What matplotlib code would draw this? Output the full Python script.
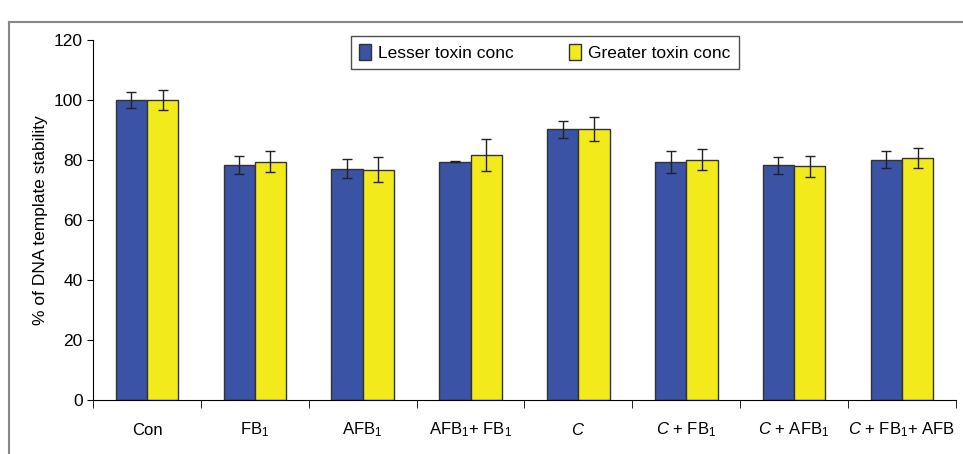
import matplotlib.pyplot as plt
import numpy as np
from matplotlib.lines import Line2D

plt.rcParams['font.family'] = ['Liberation Sans Narrow', 'Liberation Sans', 'DejaVu Sans']
plt.rcParams['mathtext.fontset'] = 'custom'
plt.rcParams['mathtext.rm'] = 'Liberation Sans'
plt.rcParams['mathtext.it'] = 'Liberation Sans:italic'

categories = ['Con', 'FB$_1$', 'AFB$_1$', 'AFB$_1$+ FB$_1$', '$\\it{C}$',
              '$\\it{C}$ + FB$_1$', '$\\it{C}$ + AFB$_1$', '$\\it{C}$ + FB$_1$+ AFB']
lesser = [100.0, 78.2, 77.1, 79.4, 90.2, 79.3, 78.2, 80.1]
lesser_err = [2.7, 3.0, 3.2, 0.2, 2.9, 3.6, 2.8, 2.8]
greater = [100.0, 79.4, 76.8, 81.7, 90.2, 80.1, 77.9, 80.6]
greater_err = [3.3, 3.5, 4.1, 5.2, 4.0, 3.5, 3.4, 3.4]

fig = plt.figure(figsize=(9.63, 4.54), dpi=100)
ax = fig.add_axes([0.0966, 0.1189, 0.896, 0.793])

x = np.arange(len(categories))
w = 0.29
ekw = dict(ecolor='#222222', elinewidth=1, capsize=3.5, capthick=1)
ax.bar(x - w / 2, lesser, w, yerr=lesser_err, color='#3a53a4', edgecolor='#333333',
       linewidth=1, error_kw=ekw, label='Lesser toxin conc')
ax.bar(x + w / 2, greater, w, yerr=greater_err, color='#f2ea1a', edgecolor='#333333',
       linewidth=1, error_kw=ekw, label='Greater toxin conc')

ax.set_xlim(-0.5, 7.5)
ax.set_ylim(0, 120)
ax.set_yticks(range(0, 121, 20))
ax.tick_params(axis='y', labelsize=12.5, length=4, direction='out')
ax.set_xticks(x)
ax.set_xticklabels(categories, fontsize=12)
for lab in ax.get_xticklabels():
    lab.set_verticalalignment('baseline')
ax.tick_params(axis='x', which='major', length=0, pad=25)
ax.set_xticks(np.arange(-0.5, 7.6, 1), minor=True)
ax.tick_params(axis='x', which='minor', length=6, direction='out')
ax.spines['top'].set_visible(False)
ax.spines['right'].set_visible(False)
ax.set_ylabel('% of DNA template stability', fontsize=12.5, family=['Liberation Sans', 'DejaVu Sans'])

leg = ax.legend(loc='upper left', bbox_to_anchor=(0.299, 1.01), ncol=2, fontsize=12.5,
                frameon=True, fancybox=False, edgecolor='#222222', handlelength=0.7,
                handleheight=1.0, columnspacing=3.2, handletextpad=0.4, borderpad=0.45,
                borderaxespad=0)
leg.get_frame().set_linewidth(1.0)

# grey outer frame
fig.add_artist(Line2D([0.0093, 1.0], [0.952, 0.952], color='#888888', lw=1.5))
fig.add_artist(Line2D([0.0093, 0.0093], [0.0, 0.952], color='#888888', lw=1.5))

fig.savefig('out.png', dpi=100)
